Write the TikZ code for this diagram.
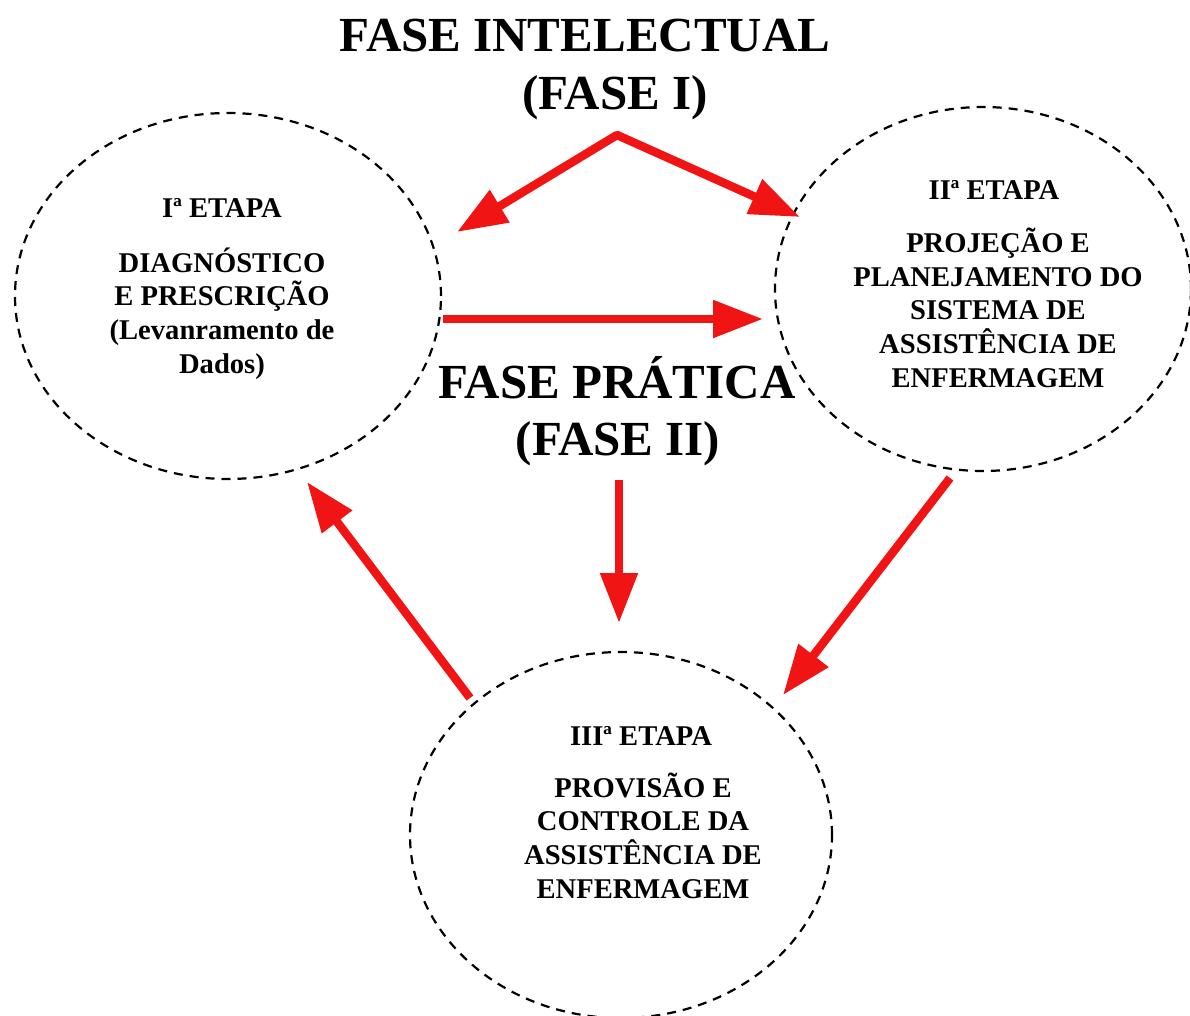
\documentclass[tikz,border=0pt]{standalone}
\usepackage{fontspec}
\setmainfont{Liberation Serif}
\usetikzlibrary{arrows.meta,shapes.geometric}
\definecolor{arrowred}{RGB}{240,20,20}
\begin{document}
\begin{tikzpicture}[x=1pt,y=-1pt,
  stage/.style={draw=black, ellipse, dash pattern=on 9pt off 7pt, line width=2.2pt, inner sep=0pt},
  bigtitle/.style={font=\fontsize{49}{56}\selectfont\bfseries, anchor=base, inner sep=0pt},
  body/.style={font=\fontsize{28.6}{33.6}\selectfont\bfseries, align=center, anchor=base, inner sep=0pt},
  flow/.style={draw=arrowred, line width=8.5pt, line join=round, -{Triangle[length=50pt,width=36pt]}},
  twoway/.style={draw=arrowred, line width=8.5pt, line join=round, {Triangle[length=50pt,width=36pt]}-{Triangle[length=50pt,width=36pt]}}
]
\useasboundingbox (0,0) rectangle (1190,1016);

% stages
\node[stage, minimum width=426pt, minimum height=366pt] (e1) at (228,296) {};
\node[stage, minimum width=416pt, minimum height=364pt] (e2) at (983,289) {};
\node[stage, minimum width=422pt, minimum height=366pt] (e3) at (621,835) {};

% titles
\node[bigtitle] (title) at (585,52) {FASE INTELECTUAL};
\node[bigtitle] (fase1) at (615,110) {(FASE I)};
\node[bigtitle] (pratica) at (617,398) {FASE PRÁTICA};
\node[bigtitle] (fase2) at (618,455) {(FASE II)};

% stage texts (anchor base = baseline of the last line)
\node[body] (h1) at (222,218) {Iª ETAPA};
\node[body] (t1) at (222,373) {DIAGNÓSTICO\\E PRESCRIÇÃO\\(Levanramento de\\Dados)};
\node[body] (h2) at (994,200) {IIª ETAPA};
\node[body] (t2) at (998,387) {PROJEÇÃO E\\PLANEJAMENTO DO\\SISTEMA DE\\ASSISTÊNCIA DE\\ENFERMAGEM};
\node[body] (h3) at (641,745) {IIIª ETAPA};
\node[body] (t3) at (643,898) {PROVISÃO E\\CONTROLE DA\\ASSISTÊNCIA DE\\ENFERMAGEM};

% arrow end points
\coordinate (top) at (617,135);
\coordinate (topL) at (457,232);
\coordinate (topR) at (800,217);
\coordinate (midA) at (443,319);
\coordinate (midB) at (763,319);
\coordinate (downA) at (619,480);
\coordinate (downB) at (619,623);
\coordinate (rA) at (950,478);
\coordinate (rB) at (783,695);
\coordinate (lA) at (470,698);
\coordinate (lB) at (307,482);

\draw[twoway] (topL) -- (top) -- (topR);
\draw[flow] (midA) -- (midB);
\draw[flow] (downA) -- (downB);
\draw[flow] (rA) -- (rB);
\draw[flow] (lA) -- (lB);
\end{tikzpicture}
\end{document}
